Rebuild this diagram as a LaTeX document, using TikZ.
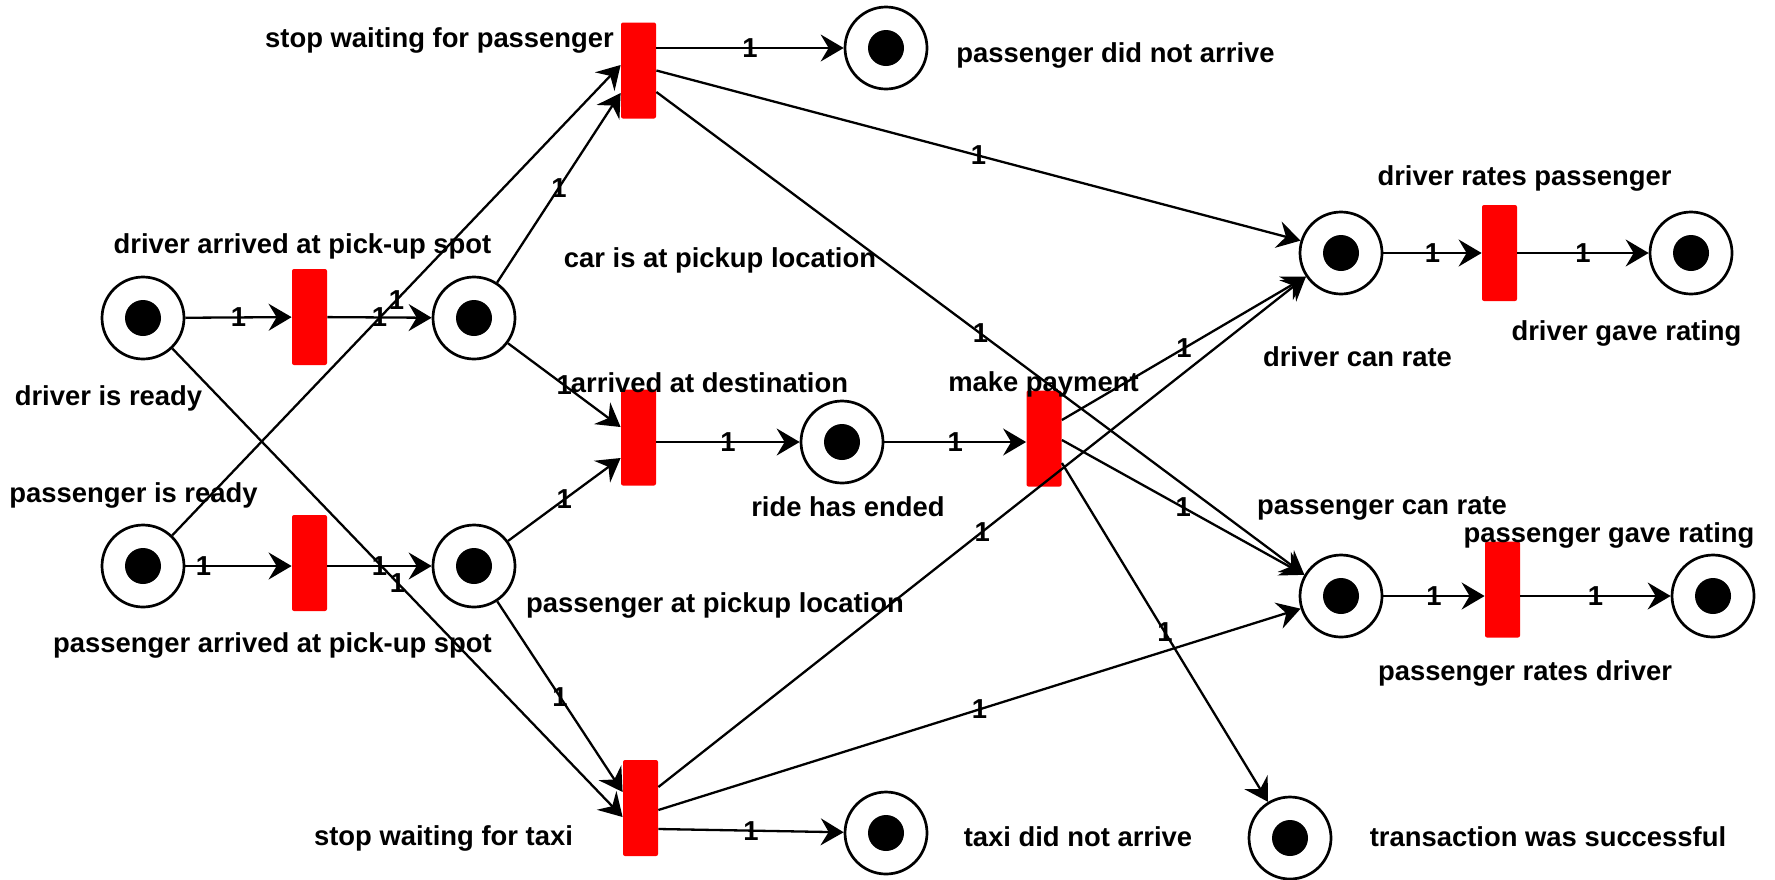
\documentclass[tikz,border=0pt]{standalone}
\usepackage{fontspec}
\setmainfont{Liberation Sans}
\usetikzlibrary{arrows.meta,calc}
\begin{document}
\begin{tikzpicture}[x=0.5pt,y=-0.5pt,
  place/.style={circle, draw, line width=1.35pt, minimum size=41pt, inner sep=0pt, fill=white,
    path picture={\fill[black] (path picture bounding box.center) circle (9pt);}},
  trans/.style={rectangle, fill=red, minimum width=17.5pt, minimum height=48pt, inner sep=0pt, rounded corners=1pt},
  lbl/.style={font=\fontsize{13.7}{16}\selectfont\bfseries, inner sep=0pt},
  wt/.style={font=\fontsize{13.7}{16}\selectfont\bfseries, inner sep=0pt},
  arc/.style={line width=1.15pt, -{Stealth[length=11.5pt,width=13.5pt,inset=4pt]}}]
\fill[white] (0,0) rectangle (1775,879);
\useasboundingbox (0,0) rectangle (1775,879);

% places
\node[place] (p1) at (143,318) {};
\node[place] (p2) at (143,566) {};
\node[place] (p3) at (474,318) {};
\node[place] (p4) at (474,566) {};
\node[place] (p5) at (842,442) {};
\node[place] (p6) at (886,48) {};
\node[place] (p7) at (886,833) {};
\node[place] (p8) at (1341,253) {};
\node[place] (p9) at (1341,596) {};
\node[place] (p10) at (1691,253) {};
\node[place] (p11) at (1713,596) {};
\node[place] (p12) at (1290,838) {};

% transitions
\node[trans] (tA) at (309.5,317) {};
\node[trans] (tB) at (309.5,563) {};
\node[trans] (tC) at (638.5,70.5) {};
\node[trans] (tD) at (638.5,437.5) {};
\node[trans] (tE) at (1044,438.5) {};
\node[trans] (tF) at (640.5,808) {};
\node[trans] (tG) at (1499.5,253) {};
\node[trans] (tH) at (1502.5,589.5) {};

% text labels
\node[lbl] (n1) at (108.5,398) {driver is ready};
\node[lbl] (n2) at (133.5,495) {passenger is ready};
\node[lbl] (n3) at (302.5,246) {driver arrived at pick-up spot};
\node[lbl] (n4) at (272.5,645) {passenger arrived at pick-up spot};
\node[lbl] (n5) at (439.5,40) {stop waiting for passenger};
\node[lbl] (n6) at (720,260) {car is at pickup location};
\node[lbl] (n7) at (709.5,383) {arrived at destination};
\node[lbl] (n8) at (1043.5,384) {make payment};
\node[lbl] (n9) at (848,507) {ride has ended};
\node[lbl] (n10) at (715,605) {passenger at pickup location};
\node[lbl] (n11) at (443.5,838) {stop waiting for taxi};
\node[lbl] (n12) at (1115.5,55) {passenger did not arrive};
\node[lbl] (n13) at (1078,837) {taxi did not arrive};
\node[lbl] (n14) at (1548,837) {transaction was successful};
\node[lbl] (n15) at (1524.5,178) {driver rates passenger};
\node[lbl] (n16) at (1357.5,357) {driver can rate};
\node[lbl] (n17) at (1626.5,333) {driver gave rating};
\node[lbl] (n18) at (1382,508) {passenger can rate};
\node[lbl] (n19) at (1609,535) {passenger gave rating};
\node[lbl] (n20) at (1525,673) {passenger rates driver};

% arcs
\draw[arc] (p1) -- node[wt]{1} (tA);
\draw[arc] (tA) -- node[wt]{1} (p3);
\draw[arc] (p2) -- node[wt,pos=0.17]{1} (p2 -| tB.west);
\draw[arc] (tB.east |- p4) -- node[wt]{1} (p4);
\draw[arc] (p1) -- node[wt]{1} ($(tF.west)+(0,9)$);
\draw[arc] (p2) -- node[wt]{1} ($(tC.west)+(0,-5.5)$);
\draw[arc] (p3) -- node[wt]{1} ($(tC.west)+(0,22.5)$);
\draw[arc] (p3) -- node[wt]{1} ($(tD.west)+(0,-10.5)$);
\draw[arc] (p4) -- node[wt]{1} ($(tD.west)+(0,20.5)$);
\draw[arc] (p4) -- node[wt]{1} ($(tF.west)+(0,-16)$);
\draw[arc] (tC.east |- p6) -- node[wt]{1} (p6);
\draw[arc] (tC.east) -- node[wt]{1} (p8.163);
\draw[arc] ($(tC.east)+(0,21.5)$) -- node[wt]{1} (p9.150);
\draw[arc] (tD.east |- p5) -- node[wt]{1} (p5);
\draw[arc] (p5) -- node[wt]{1} (p5 -| tE.west);
\draw[arc] ($(tE.east)+(0,-18.5)$) -- node[wt]{1} (p8.214);
\draw[arc] ($(tE.east)+(0,1.5)$) -- node[wt]{1} (p9.150);
\draw[arc] ($(tE.east)+(0,24.5)$) -- node[wt]{1} (p12);
\draw[arc] ($(tF.east)+(0,-21)$) -- node[wt]{1} (p8.214);
\draw[arc] ($(tF.east)+(0,2)$) -- node[wt]{1} (p9);
\draw[arc] ($(tF.east)+(0,21)$) -- node[wt]{1} (p7);
\draw[arc] (p8) -- node[wt]{1} (tG);
\draw[arc] (tG) -- node[wt]{1} (p10);
\draw[arc] (p9) -- node[wt]{1} (p9 -| tH.west);
\draw[arc] (tH.east |- p11) -- node[wt]{1} (p11);
\end{tikzpicture}
\end{document}
